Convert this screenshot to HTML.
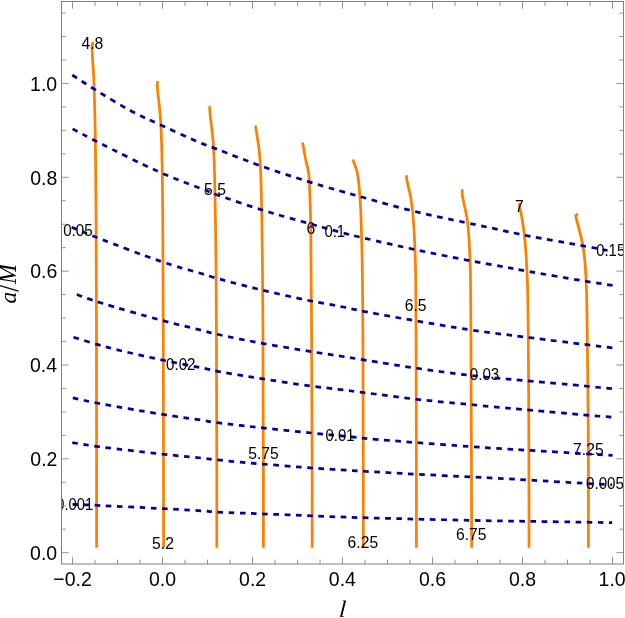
<!DOCTYPE html>
<html><head><meta charset="utf-8"><title>plot</title>
<style>html,body{margin:0;padding:0;background:#fff}svg{display:block;will-change:transform}</style></head>
<body>
<svg width="625" height="618" viewBox="0 0 625 618">
<rect width="625" height="618" fill="#fff"/>
<defs><clipPath id="c"><rect x="61.5" y="1.5" width="562.0" height="562.5"/></clipPath></defs>
<g clip-path="url(#c)">
<g fill="none" stroke="#ff8000" stroke-width="2.75" stroke-linejoin="round" stroke-linecap="butt">
<path d="M93.20,42.00 L92.60,43.65 Q92.00,45.30 92.10,48.65 Q92.20,52.00 92.35,55.50 Q92.50,59.00 93.00,65.50 Q93.50,72.00 93.80,78.50 Q94.10,85.00 94.30,92.50 Q94.50,100.00 94.90,116.50 Q95.30,133.00 95.60,161.50 Q95.90,190.00 96.10,220.00 Q96.30,250.00 96.45,325.00 Q96.60,400.00 96.60,473.85 L96.60,547.70"/>
<path d="M157.60,81.00 L157.35,84.00 Q157.10,87.00 158.40,97.35 Q159.70,107.70 160.60,120.65 Q161.50,133.60 162.05,161.80 Q162.60,190.00 162.85,235.00 Q163.10,280.00 163.25,322.50 Q163.40,365.00 163.50,456.35 L163.60,547.70"/>
<path d="M209.70,106.20 L209.70,108.60 Q209.70,111.00 210.35,116.70 Q211.00,122.40 211.85,128.85 Q212.70,135.30 213.15,141.80 Q213.60,148.30 213.95,155.55 Q214.30,162.80 214.60,176.40 Q214.90,190.00 215.45,220.00 Q216.00,250.00 216.40,325.00 Q216.80,400.00 216.80,473.85 L216.80,547.70"/>
<path d="M255.50,125.60 L256.35,131.25 Q257.20,136.90 258.25,143.40 Q259.30,149.90 259.75,156.35 Q260.20,162.80 260.55,170.10 Q260.90,177.40 261.10,183.70 Q261.30,190.00 261.85,220.00 Q262.40,250.00 262.90,325.00 Q263.40,400.00 263.40,473.85 L263.40,547.70"/>
<path d="M302.50,142.60 L303.35,146.80 Q304.20,151.00 304.95,155.85 Q305.70,160.70 306.90,164.75 Q308.10,168.80 308.60,172.85 Q309.10,176.90 309.30,180.95 Q309.50,185.00 309.75,191.50 Q310.00,198.00 310.25,206.05 Q310.50,214.10 310.75,227.05 Q311.00,240.00 311.55,320.00 Q312.10,400.00 312.15,473.85 L312.20,547.70"/>
<path d="M352.80,159.40 L354.15,162.90 Q355.50,166.40 356.55,170.05 Q357.60,173.70 358.25,178.55 Q358.90,183.40 359.35,189.05 Q359.80,194.70 360.25,201.20 Q360.70,207.70 361.05,218.85 Q361.40,230.00 361.95,250.00 Q362.50,270.00 362.90,335.00 Q363.30,400.00 363.30,473.85 L363.30,547.70"/>
<path d="M406.50,175.20 L406.55,177.60 Q406.60,180.00 408.65,187.70 Q410.70,195.40 411.75,203.90 Q412.80,212.40 413.55,222.90 Q414.30,233.40 414.80,245.55 Q415.30,257.70 415.55,268.85 Q415.80,280.00 416.10,340.00 Q416.40,400.00 416.40,473.85 L416.40,547.70"/>
<path d="M462.50,189.40 L462.20,191.60 Q461.90,193.80 463.00,199.05 Q464.10,204.30 465.75,211.55 Q467.40,218.80 468.20,227.70 Q469.00,236.60 469.55,248.75 Q470.10,260.90 470.35,270.45 Q470.60,280.00 470.95,340.00 Q471.30,400.00 471.50,473.85 L471.70,547.70"/>
<path d="M519.20,203.00 L519.40,204.50 Q519.60,206.00 520.65,211.35 Q521.70,216.70 522.70,222.90 Q523.70,229.10 524.50,236.25 Q525.30,243.40 525.80,250.50 Q526.30,257.60 526.65,264.75 Q527.00,271.90 527.30,279.00 Q527.60,286.10 527.75,293.05 Q527.90,300.00 528.15,325.00 Q528.40,350.00 528.70,400.00 Q529.00,450.00 529.00,498.85 L529.00,547.70"/>
<path d="M577.90,213.70 L576.75,214.75 Q575.60,215.80 575.60,215.80 Q575.60,215.80 576.50,219.35 Q577.40,222.90 578.75,227.80 Q580.10,232.70 581.15,237.15 Q582.20,241.60 583.10,246.95 Q584.00,252.30 584.60,258.50 Q585.20,264.70 585.65,271.85 Q586.10,279.00 586.45,289.50 Q586.80,300.00 587.20,330.00 Q587.60,360.00 588.05,405.00 Q588.50,450.00 588.45,498.85 L588.40,547.70"/>
</g>
<g font-family="Liberation Sans, sans-serif" font-size="160" fill="#000">
<text transform="translate(81.51,48.61) scale(0.0980,0.1)">4.8</text>
<text transform="translate(204.12,195.38) scale(0.0980,0.1)">5.5</text>
<text transform="translate(306.54,233.71) scale(0.0980,0.1)">6</text>
<text transform="translate(515.03,211.85) scale(0.0980,0.1)">7</text>
<text transform="translate(404.78,311.46) scale(0.0980,0.1)">6.5</text>
<text transform="translate(248.21,458.88) scale(0.0980,0.1)">5.75</text>
<text transform="translate(573.12,454.71) scale(0.0980,0.1)">7.25</text>
<text transform="translate(152.08,548.71) scale(0.0980,0.1)">5.2</text>
<text transform="translate(347.62,548.21) scale(0.0980,0.1)">6.25</text>
<text transform="translate(455.92,539.51) scale(0.0980,0.1)">6.75</text>
</g>
<g fill="none" stroke="#0000a0" stroke-width="2.75" stroke-dasharray="5.6 5.6" stroke-linejoin="round">
<path d="M72.30,75.00 L83.00,82.00 Q93.70,89.00 113.10,100.65 Q132.50,112.30 147.00,118.80 Q161.50,125.30 180.75,134.20 Q200.00,143.10 206.50,145.30 Q213.00,147.50 236.30,156.70 Q259.60,165.90 284.20,173.90 Q308.80,181.90 324.40,186.45 Q340.00,191.00 350.35,193.85 Q360.70,196.70 387.25,204.20 Q413.80,211.70 441.00,217.40 Q468.20,223.10 482.40,226.10 Q496.60,229.10 510.55,232.25 Q524.50,235.40 553.65,240.60 Q582.80,245.80 593.15,247.75 Q603.50,249.70 605.50,250.10 L607.50,250.50" stroke-dasharray="5.62 5.62"/>
<path d="M72.60,128.90 L83.80,134.85 Q95.00,140.80 128.25,157.25 Q161.50,173.70 180.65,180.85 Q199.80,188.00 207.65,191.20 Q215.50,194.40 238.20,202.15 Q260.90,209.90 282.25,215.95 Q303.60,222.00 323.10,227.50 Q342.60,233.00 352.30,235.30 Q362.00,237.60 388.55,243.70 Q415.10,249.80 442.30,255.25 Q469.50,260.70 484.75,263.40 Q500.00,266.10 513.55,268.65 Q527.10,271.20 556.25,276.25 Q585.40,281.30 599.00,283.35 L612.60,285.40" stroke-dasharray="5.597 5.597"/>
<path d="M71.70,227.20 L83.95,232.35 Q96.20,237.50 129.90,250.20 Q163.60,262.90 181.80,268.00 Q200.00,273.10 208.15,275.70 Q216.30,278.30 239.60,284.40 Q262.90,290.50 287.35,295.95 Q311.80,301.40 325.90,303.80 Q340.00,306.20 351.40,308.80 Q362.80,311.40 389.60,316.20 Q416.40,321.00 443.55,325.55 Q470.70,330.10 485.35,332.00 Q500.00,333.90 514.20,335.70 Q528.40,337.50 557.80,341.15 Q587.20,344.80 599.90,346.35 L612.60,347.90" stroke-dasharray="5.616 5.616"/>
<path d="M76.80,294.50 L86.50,298.10 Q96.20,301.70 129.90,311.45 Q163.60,321.20 181.80,325.50 Q200.00,329.80 208.40,332.15 Q216.80,334.50 239.85,339.05 Q262.90,343.60 287.35,347.70 Q311.80,351.80 325.90,353.90 Q340.00,356.00 351.65,357.90 Q363.30,359.80 389.85,364.10 Q416.40,368.40 443.55,372.00 Q470.70,375.60 485.35,377.05 Q500.00,378.50 514.20,379.65 Q528.40,380.80 557.80,383.50 Q587.20,386.20 599.90,387.50 L612.60,388.80" stroke-dasharray="5.616 5.616"/>
<path d="M73.50,337.20 L84.85,340.70 Q96.20,344.20 106.75,347.10 Q117.30,350.00 140.20,355.20 Q163.10,360.40 186.55,364.90 Q210.00,369.40 213.40,370.35 Q216.80,371.30 239.85,375.15 Q262.90,379.00 287.35,382.65 Q311.80,386.30 325.90,387.90 Q340.00,389.50 351.65,391.00 Q363.30,392.50 389.85,396.00 Q416.40,399.50 443.55,402.05 Q470.70,404.60 485.35,406.05 Q500.00,407.50 514.20,408.75 Q528.40,410.00 557.80,412.60 Q587.20,415.20 599.90,416.25 L612.60,417.30" stroke-dasharray="5.616 5.616"/>
<path d="M72.80,397.90 L84.70,400.50 Q96.60,403.10 129.85,408.90 Q163.10,414.70 181.55,417.25 Q200.00,419.80 208.40,421.30 Q216.80,422.80 240.10,425.40 Q263.40,428.00 287.75,430.55 Q312.10,433.10 332.55,435.05 Q353.00,437.00 358.15,437.65 Q363.30,438.30 389.85,440.50 Q416.40,442.70 443.85,444.65 Q471.30,446.60 485.65,447.65 Q500.00,448.70 514.20,449.45 Q528.40,450.20 557.80,452.10 Q587.20,454.00 599.90,454.65 L612.60,455.30" stroke-dasharray="5.616 5.616"/>
<path d="M72.30,442.60 L84.45,444.60 Q96.60,446.60 129.85,450.45 Q163.10,454.30 181.55,456.05 Q200.00,457.80 208.40,458.90 Q216.80,460.00 240.10,462.10 Q263.40,464.20 287.75,466.15 Q312.10,468.10 326.05,468.95 Q340.00,469.80 351.65,470.50 Q363.30,471.20 389.85,472.75 Q416.40,474.30 443.85,475.60 Q471.30,476.90 485.65,477.65 Q500.00,478.40 514.50,479.20 Q529.00,480.00 558.45,481.80 Q587.90,483.60 600.05,484.20 L612.20,484.80" stroke-dasharray="5.624 5.624"/>
<path d="M72.50,504.30 L84.55,504.80 Q96.60,505.30 129.85,506.95 Q163.10,508.60 181.55,509.60 Q200.00,510.60 208.40,511.40 Q216.80,512.20 240.10,513.05 Q263.40,513.90 287.75,514.80 Q312.10,515.70 326.05,516.35 Q340.00,517.00 351.65,517.40 Q363.30,517.80 389.85,518.45 Q416.40,519.10 443.85,519.75 Q471.30,520.40 485.65,520.65 Q500.00,520.90 514.50,521.15 Q529.00,521.40 558.45,521.80 Q587.90,522.20 600.05,522.45 L612.20,522.70" stroke-dasharray="5.592 5.592"/>
</g>
<g font-family="Liberation Sans, sans-serif" font-size="160" fill="#000">
<text transform="translate(324.42,236.61) scale(0.0930,0.1)">0.1</text>
<text transform="translate(596.22,256.46) scale(0.0930,0.1)">0.15</text>
<text transform="translate(63.13,235.51) scale(0.0950,0.1)">0.05</text>
<text transform="translate(166.07,369.51) scale(0.0945,0.1)">0.02</text>
<text transform="translate(469.82,380.46) scale(0.0945,0.1)">0.03</text>
<text transform="translate(325.52,441.11) scale(0.0930,0.1)">0.01</text>
<text transform="translate(586.01,488.71) scale(0.0950,0.1)">0.005</text>
<text transform="translate(56.28,509.51) scale(0.0920,0.1)">0.001</text>
</g>
</g>
<rect x="61.5" y="1.5" width="562.0" height="562.5" stroke="#7a7a7a" stroke-width="0.95" fill="none"/>
<g stroke="#7a7a7a" stroke-width="0.8" fill="none">
<path d="M72.50,564.0 v-7.2 M72.50,1.5 v7.2"/>
<path d="M95.00,564.0 v-4.3 M95.00,1.5 v4.3"/>
<path d="M117.50,564.0 v-4.3 M117.50,1.5 v4.3"/>
<path d="M140.00,564.0 v-4.3 M140.00,1.5 v4.3"/>
<path d="M162.50,564.0 v-7.2 M162.50,1.5 v7.2"/>
<path d="M185.00,564.0 v-4.3 M185.00,1.5 v4.3"/>
<path d="M207.50,564.0 v-4.3 M207.50,1.5 v4.3"/>
<path d="M230.00,564.0 v-4.3 M230.00,1.5 v4.3"/>
<path d="M252.50,564.0 v-7.2 M252.50,1.5 v7.2"/>
<path d="M275.00,564.0 v-4.3 M275.00,1.5 v4.3"/>
<path d="M297.50,564.0 v-4.3 M297.50,1.5 v4.3"/>
<path d="M320.00,564.0 v-4.3 M320.00,1.5 v4.3"/>
<path d="M342.50,564.0 v-7.2 M342.50,1.5 v7.2"/>
<path d="M365.00,564.0 v-4.3 M365.00,1.5 v4.3"/>
<path d="M387.50,564.0 v-4.3 M387.50,1.5 v4.3"/>
<path d="M410.00,564.0 v-4.3 M410.00,1.5 v4.3"/>
<path d="M432.50,564.0 v-7.2 M432.50,1.5 v7.2"/>
<path d="M455.00,564.0 v-4.3 M455.00,1.5 v4.3"/>
<path d="M477.50,564.0 v-4.3 M477.50,1.5 v4.3"/>
<path d="M500.00,564.0 v-4.3 M500.00,1.5 v4.3"/>
<path d="M522.50,564.0 v-7.2 M522.50,1.5 v7.2"/>
<path d="M545.00,564.0 v-4.3 M545.00,1.5 v4.3"/>
<path d="M567.50,564.0 v-4.3 M567.50,1.5 v4.3"/>
<path d="M590.00,564.0 v-4.3 M590.00,1.5 v4.3"/>
<path d="M612.50,564.0 v-7.2 M612.50,1.5 v7.2"/>
<path d="M61.5,552.65 h7.2 M623.5,552.65 h-7.2"/>
<path d="M61.5,529.19 h4.3 M623.5,529.19 h-4.3"/>
<path d="M61.5,505.73 h4.3 M623.5,505.73 h-4.3"/>
<path d="M61.5,482.27 h4.3 M623.5,482.27 h-4.3"/>
<path d="M61.5,458.81 h7.2 M623.5,458.81 h-7.2"/>
<path d="M61.5,435.35 h4.3 M623.5,435.35 h-4.3"/>
<path d="M61.5,411.89 h4.3 M623.5,411.89 h-4.3"/>
<path d="M61.5,388.43 h4.3 M623.5,388.43 h-4.3"/>
<path d="M61.5,364.97 h7.2 M623.5,364.97 h-7.2"/>
<path d="M61.5,341.51 h4.3 M623.5,341.51 h-4.3"/>
<path d="M61.5,318.05 h4.3 M623.5,318.05 h-4.3"/>
<path d="M61.5,294.59 h4.3 M623.5,294.59 h-4.3"/>
<path d="M61.5,271.13 h7.2 M623.5,271.13 h-7.2"/>
<path d="M61.5,247.67 h4.3 M623.5,247.67 h-4.3"/>
<path d="M61.5,224.21 h4.3 M623.5,224.21 h-4.3"/>
<path d="M61.5,200.75 h4.3 M623.5,200.75 h-4.3"/>
<path d="M61.5,177.29 h7.2 M623.5,177.29 h-7.2"/>
<path d="M61.5,153.83 h4.3 M623.5,153.83 h-4.3"/>
<path d="M61.5,130.37 h4.3 M623.5,130.37 h-4.3"/>
<path d="M61.5,106.91 h4.3 M623.5,106.91 h-4.3"/>
<path d="M61.5,83.45 h7.2 M623.5,83.45 h-7.2"/>
<path d="M61.5,59.99 h4.3 M623.5,59.99 h-4.3"/>
<path d="M61.5,36.53 h4.3 M623.5,36.53 h-4.3"/>
<path d="M61.5,13.07 h4.3 M623.5,13.07 h-4.3"/>
</g>
<g font-family="Liberation Sans, sans-serif" font-size="206.0" fill="#000">
<text transform="translate(53.29,585.7) scale(0.0945,0.1)">−0.2</text>
<text transform="translate(148.97,585.7) scale(0.0945,0.1)">0.0</text>
<text transform="translate(239.08,585.7) scale(0.0945,0.1)">0.2</text>
<text transform="translate(328.87,585.7) scale(0.0945,0.1)">0.4</text>
<text transform="translate(419.02,585.7) scale(0.0945,0.1)">0.6</text>
<text transform="translate(509.01,585.7) scale(0.0945,0.1)">0.8</text>
<text transform="translate(598.61,585.7) scale(0.0945,0.1)">1.0</text>
<text transform="translate(30.10,560.00) scale(0.0945,0.1)">0.0</text>
<text transform="translate(30.32,466.16) scale(0.0945,0.1)">0.2</text>
<text transform="translate(29.91,372.32) scale(0.0945,0.1)">0.4</text>
<text transform="translate(30.19,278.48) scale(0.0945,0.1)">0.6</text>
<text transform="translate(30.18,184.64) scale(0.0945,0.1)">0.8</text>
<text transform="translate(30.10,90.80) scale(0.0945,0.1)">1.0</text>
</g>
<g font-family="Liberation Serif, serif" font-style="italic" fill="#000">
<text transform="translate(342.0,617.4) skewX(-4.5)" text-anchor="middle" font-size="23.8">l</text>
<text transform="translate(15.8,284.0) rotate(-90) scale(1,1.07)" font-size="24.0">M</text>
<text transform="translate(15.8,303.5) rotate(-90) scale(1,1.0)" font-size="23.5">a</text>
<path d="M18.5,291.1 L-0.5,285.4" stroke="#000" stroke-width="1.25" fill="none"/>
</g>
</svg>
</body></html>
